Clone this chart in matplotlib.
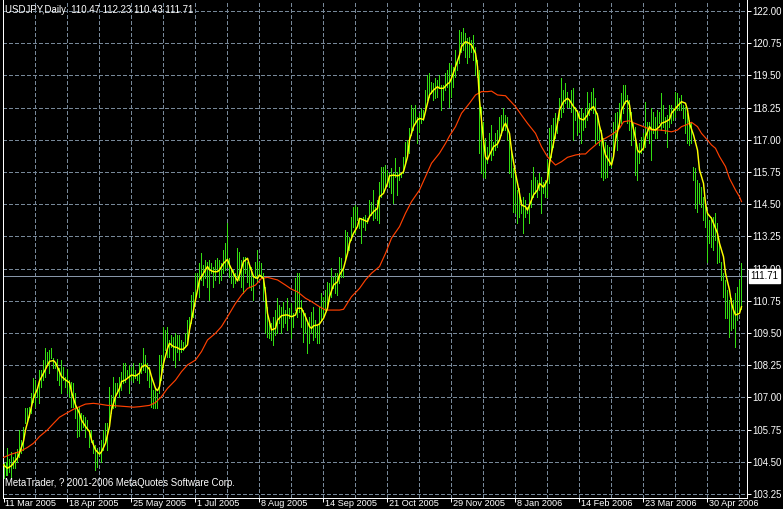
import numpy as np
import matplotlib
matplotlib.use("Agg")
import matplotlib.pyplot as plt
from matplotlib import transforms

plt.rcParams['font.family'] = ['Liberation Sans', 'DejaVu Sans']
plt.rcParams['lines.scale_dashes'] = False

title_text = "USDJPY,Daily  110.47 112.23 110.43 111.71"
footer_text = "MetaTrader, ? 2001-2006 MetaQuotes Software Corp."
last_price = 111.71

date_labels = ["11 Mar 2005", "18 Apr 2005", "25 May 2005", "1 Jul 2005",
               "8 Aug 2005", "14 Sep 2005", "21 Oct 2005", "29 Nov 2005",
               "8 Jan 2006", "14 Feb 2006", "23 Mar 2006", "30 Apr 2006"]
price_ticks = [103.25, 104.50, 105.75, 107.00, 108.25, 109.50, 110.75, 112.00,
               113.25, 114.50, 115.75, 117.00, 118.25, 119.50, 120.75, 122.00]

# daily bars, high / low (one per bar, oldest first)
bar_high = [
    104.45, 104.5, 105.02, 104.6, 104.89, 104.7, 104.89, 105.0, 105.74, 105.35,
    105.86, 106.58, 106.58, 106.64, 107.16, 107.74, 107.68, 107.42, 108.07, 108.07,
    108.45, 108.91, 108.78, 108.84, 108.91, 108.52, 108.32, 108.48, 108.13, 108.45,
    108.19, 107.81, 108.09, 107.68, 107.61, 107.55, 107.16, 106.64, 106.64, 106.38,
    106.32, 106.25, 106.12, 105.74, 105.74, 105.35, 105.15, 105.02, 104.96, 105.35,
    105.74, 105.99, 105.99, 107.42, 107.09, 107.81, 107.55, 107.55, 107.81, 108.0,
    108.35, 108.32, 108.07, 108.26, 108.19, 108.32, 108.07, 107.87, 108.32, 108.32,
    108.91, 108.65, 108.32,
    108.19, 107.74, 107.29, 107.42, 107.16, 108.65, 108.65, 109.75, 109.62, 109.75,
    109.23, 109.42, 109.36, 109.49, 109.42, 109.42, 109.23, 109.16, 109.49, 110.0,
    110.13, 110.97, 111.1, 111.82, 111.82, 112.2, 112.59, 112.14, 112.33, 112.27,
    112.33, 112.2, 112.08, 112.33, 112.4, 112.33, 112.2, 112.72, 112.98, 113.76,
    112.4, 112.01, 111.95, 111.82, 112.79, 112.66, 112.33, 112.46, 112.46, 112.27,
    112.14, 112.08, 111.69, 112.27, 112.72, 112.27, 112.2, 111.82, 111.3, 110.52,
    110.0, 109.88, 110.13, 110.39, 110.85, 110.59, 110.52, 110.72, 110.39, 110.85,
    110.46, 110.65, 110.26, 111.62, 111.82,
    111.82, 110.78, 110.39, 110.26, 109.88, 110.13, 110.33, 110.52, 110.0, 109.81,
    110.52, 111.04, 110.91, 111.17, 111.49, 111.43, 112.01, 111.69, 111.82, 111.82,
    112.46, 112.4, 112.08, 113.5, 113.43, 113.24, 114.02, 114.4, 114.47, 114.4,
    113.89, 113.95, 114.02, 114.08, 113.95, 114.66, 114.6, 115.05, 114.4, 114.66,
    115.38, 115.96, 115.96, 116.02, 115.83, 115.7, 115.89, 115.7, 116.28, 115.76,
    115.96, 115.7, 116.34, 116.93, 116.99, 117.45, 118.35, 118.22, 118.35, 117.9,
    118.03, 118.22, 118.16, 118.93, 119.52, 119.58, 119.26, 119.19, 119.39, 119.32,
    119.52, 119.13, 119.13, 119.58, 119.71,
    119.97, 119.9, 119.84, 120.49, 120.1, 121.26, 121.2, 121.33, 121.13, 120.94,
    121.0, 120.87, 121.07, 120.62, 120.1, 119.71, 118.29, 117.7, 117.06, 116.73,
    117.25, 117.58, 116.93, 117.25, 117.38, 117.9, 117.96, 118.22, 117.96, 117.9,
    117.25, 116.73, 115.89, 115.83, 115.05, 115.12, 114.66, 114.79, 114.66, 114.4,
    114.92, 115.44, 115.96, 115.57, 115.44, 115.7, 115.57, 115.38, 115.44, 116.22,
    117.45, 117.58, 117.83, 118.03, 117.83, 118.61, 119.39, 118.93, 119.19, 118.87,
    118.55, 118.93, 119.0, 118.29, 118.16, 118.03, 118.22, 118.03, 118.22, 118.87,
    118.42, 118.87, 119.0, 118.61, 118.03, 117.6,
    117.38, 117.06, 116.93, 116.8, 116.73, 116.35, 117.7, 118.03, 118.09, 118.42,
    118.8, 119.13, 119.13, 118.74, 118.54, 118.09, 117.64, 117.51, 116.73, 116.86,
    117.12, 117.25, 118.48, 117.7, 117.7, 118.22, 118.09, 117.9, 118.16, 118.09,
    118.8, 118.35, 117.9, 117.96, 118.35, 118.35, 118.22, 118.87, 118.8, 118.61,
    118.74, 118.35, 118.29, 118.03, 117.77, 117.64, 115.96, 115.89, 115.44, 115.31,
    115.18, 114.79, 114.66, 114.15, 113.89, 114.02, 114.02, 114.15, 113.76, 112.98,
    112.27, 111.82, 111.56, 111.17, 110.78, 110.85, 110.78, 111.04, 111.3, 111.56,
    112.23,
]
bar_low = [
    103.86, 104.0, 103.99, 104.1, 103.86, 104.25, 104.25, 104.5, 104.7, 104.83,
    104.96, 105.99, 106.06, 106.25, 106.38, 106.84, 106.64, 107.03, 106.77, 107.42,
    107.68, 107.81, 108.26, 107.94, 108.52, 108.13, 108.13, 107.68, 107.48, 107.16,
    107.68, 107.42, 107.16, 107.03, 106.64, 106.64, 106.19, 105.48, 105.5, 105.74,
    105.86, 105.48, 105.74, 105.09, 105.28, 104.83, 104.18, 104.31, 104.77, 104.51,
    104.96, 105.22, 104.96, 105.86, 106.38, 106.58, 106.64, 107.16, 107.03, 107.29,
    107.55, 107.61, 107.81, 107.16, 107.68, 107.61, 107.74, 107.68, 107.55, 107.94,
    108.07, 108.0, 107.68,
    107.42, 106.64, 106.58, 106.58, 106.58, 107.16, 107.68, 108.19, 108.84, 108.58,
    108.58, 108.97, 108.45, 108.19, 108.78, 108.45, 108.78, 108.84, 108.97, 109.1,
    109.49, 109.88, 110.13, 110.78, 111.3, 110.91, 111.56, 111.36, 111.62, 111.3,
    110.78, 111.82, 111.3, 111.56, 111.95, 111.43, 111.56, 111.82, 111.95, 112.08,
    111.69, 111.43, 111.3, 111.43, 111.69, 111.56, 111.3, 111.04, 111.82, 111.49,
    111.3, 111.17, 110.78, 111.62, 111.49, 111.75, 111.62, 110.78, 109.49, 109.36,
    109.29, 109.23, 109.03, 109.42, 109.49, 109.88, 109.49, 109.75, 109.88, 109.62,
    110.07, 109.3, 109.75, 110.39, 110.13,
    110.33, 109.75, 109.16, 109.49, 108.71, 109.1, 109.49, 109.23, 109.36, 109.1,
    109.1, 110.0, 110.2, 110.39, 110.52, 110.78, 110.91, 111.23, 111.04, 110.98,
    111.43, 111.69, 111.69, 112.33, 112.59, 112.72, 113.11, 113.63, 113.37, 113.89,
    113.56, 113.0, 113.63, 113.5, 113.76, 114.02, 114.08, 113.89, 113.95, 113.89,
    113.76, 114.79, 114.92, 115.18, 115.31, 115.18, 114.92, 114.53, 115.57, 114.86,
    115.44, 115.57, 115.7, 116.09, 116.48, 116.48, 117.19, 117.38, 117.7, 116.86,
    117.32, 117.64, 117.77, 118.16, 118.55, 118.68, 118.8, 118.55, 118.61, 118.68,
    119.0, 118.16, 118.55, 118.93, 119.06,
    118.29, 118.68, 119.06, 119.45, 119.71, 119.97, 120.42, 120.49, 120.23, 119.97,
    120.23, 120.42, 120.1, 119.52, 119.45, 116.48, 115.7, 115.57, 115.5, 116.09,
    116.48, 116.22, 116.41, 116.6, 116.73, 116.99, 117.19, 117.38, 117.38, 116.99,
    115.7, 115.57, 114.21, 114.15, 113.76, 114.02, 114.15, 113.37, 114.02, 114.15,
    113.76, 114.4, 114.79, 114.92, 114.79, 115.05, 114.15, 114.92, 114.79, 114.79,
    115.31, 116.34, 116.73, 117.06, 117.25, 117.77, 117.9, 118.09, 118.42, 118.29,
    118.29, 118.09, 117.0, 117.77, 117.19, 117.32, 116.86, 117.38, 117.51, 117.77,
    117.96, 118.16, 118.03, 116.86, 117.0, 116.8,
    115.57, 115.44, 115.5, 115.57, 116.02, 115.96, 116.35, 116.99, 116.6, 117.51,
    117.64, 118.03, 118.42, 117.64, 117.38, 116.8, 116.99, 115.63, 115.44, 116.09,
    116.47, 116.6, 116.73, 117.06, 116.86, 116.22, 117.25, 117.06, 117.06, 117.64,
    117.38, 117.51, 117.25, 116.73, 117.51, 117.64, 117.77, 117.9, 118.16, 118.16,
    118.16, 117.83, 117.25, 116.86, 116.8, 116.86, 115.44, 114.34, 114.21, 114.53,
    114.4, 113.89, 113.63, 112.27, 112.98, 112.85, 112.72, 113.11, 112.2, 112.27,
    111.56, 110.91, 110.07, 110.07, 109.36, 109.62, 109.68, 108.97, 110.0, 110.26,
    110.43,
]

# yellow (fast) moving average, read at these bar numbers
fast_pos = [0, 2, 4, 5, 7, 8, 10, 11, 13, 15, 17, 18, 20, 22, 23, 25, 26, 28, 29, 31,
            33, 34, 36, 38, 39, 41, 43, 44, 46, 48, 49, 51, 53, 54, 56, 58, 59, 61, 63, 64,
            66, 68, 69, 71, 73,
            74, 76, 77, 78, 80, 82, 83, 85, 87, 88, 90, 92, 93, 95, 97, 98, 100, 102, 103, 105,
            107, 108, 110, 112, 113, 115, 117, 118, 120, 122, 123, 125, 127, 128, 130, 131, 132, 134, 136, 137,
            139, 141, 142, 144, 146, 147,
            149, 151, 153, 154, 155, 157, 158, 160, 162, 163, 165, 167, 168, 170, 172, 173, 175, 177, 178, 180,
            182, 183, 185, 187, 188, 190, 192, 193, 195, 197, 198, 200, 202, 203, 205, 207, 208, 210, 212, 213,
            215, 217, 218, 220, 222, 223,
            224, 226, 228, 229, 231, 233, 234, 236, 237, 238, 239, 240, 241, 242, 243, 245, 247, 248, 250, 251,
            253, 254, 256, 258, 259, 261, 262, 263, 265, 267, 268, 270, 272, 273, 275, 277, 278, 280, 282, 283,
            285, 287, 288, 290, 292, 293, 295, 297, 298,
            299, 300, 301, 303, 304, 305, 306, 308, 309, 311, 312, 313, 314, 316, 317, 318, 320, 321, 323, 324,
            326, 328, 329, 331, 333, 334, 336, 338, 339, 341, 342, 343, 345, 347, 348, 350, 351, 352, 354, 355,
            357, 358, 360, 361, 363, 364, 365, 366, 368, 369]
fast_ma = [104.38, 104.25, 104.35, 104.45, 104.65, 104.85, 105.3, 105.74, 106.32, 106.98,
           107.34, 107.64, 107.94, 108.25, 108.4, 108.43, 108.35, 108.0, 107.81, 107.68,
           107.57, 107.22, 106.71, 106.38, 106.12, 105.87, 105.67, 105.35, 104.96, 104.8,
           104.89, 105.22, 105.87, 106.51, 107.03, 107.35, 107.61, 107.68, 107.81, 107.87,
           107.83, 107.94, 108.17, 108.26, 108.09,
           107.8, 107.35, 107.26, 107.42, 108.32, 108.9, 109.1, 108.97, 108.93, 108.87,
           108.87, 109.04, 109.62, 110.39, 111.17, 111.56, 111.82, 112.08, 111.95, 111.88,
           111.88, 111.95, 112.2, 112.36, 112.14, 111.82, 111.52, 111.75, 112.27, 112.4,
           112.14, 111.69, 111.62, 111.75, 111.62, 111.04, 110.26, 109.62, 109.68, 110.0,
           110.17, 110.2, 110.2, 110.13, 110.2, 110.46,
           110.46, 110.13, 109.75, 109.68, 109.78, 109.81, 109.85, 110.07, 110.46, 110.91,
           111.36, 111.49, 111.75, 112.01, 112.59, 112.98, 113.37, 113.63, 113.95, 113.89,
           113.82, 114.02, 114.21, 114.34, 114.79, 114.92, 115.31, 115.6, 115.63, 115.6,
           115.63, 115.76, 116.34, 116.99, 117.51, 117.77, 117.83, 117.79, 118.42, 118.74,
           118.93, 119.06, 119.0, 119.0, 119.17, 119.22,
           119.39, 119.84, 120.29, 120.62, 120.81, 120.74, 120.68, 120.36, 119.84, 118.54,
           117.77, 116.99, 116.34, 116.22, 116.41, 116.73, 116.84, 116.99, 117.51, 117.64,
           117.25, 116.6, 115.7, 114.92, 114.47, 114.4, 114.27, 114.47, 114.86, 115.05,
           115.31, 115.16, 115.44, 116.09, 116.86, 117.64, 118.16, 118.48, 118.61, 118.54,
           118.29, 118.09, 117.83, 117.77, 117.96, 118.16, 118.29, 117.96, 117.54,
           117.25, 116.73, 116.41, 116.15, 116.02, 116.34, 116.99, 117.64, 118.16, 118.48,
           118.52, 118.35, 117.77, 117.06, 116.6, 116.5, 116.67, 117.12, 117.51, 117.41,
           117.38, 117.51, 117.64, 117.7, 117.79, 118.03, 118.22, 118.39, 118.48, 118.42,
           118.16, 117.64, 117.19, 116.6, 115.83, 115.31, 114.53, 114.14, 113.95, 113.76,
           113.37, 112.98, 112.46, 111.82, 111.17, 110.65, 110.39, 110.2, 110.26, 110.52]

# red (slow) moving average, read at these bar numbers
slow_pos = [0, 4, 8, 12, 15, 18, 22, 25, 28, 32, 35, 38, 41, 45, 48, 52, 57, 62, 65, 68,
            73, 76, 79, 82, 86, 89, 92, 96, 99, 102, 106, 109, 112, 116, 119, 122, 126, 129, 132, 134,
            137, 141, 144, 147, 151, 154, 158, 161, 164, 168, 170, 174, 178, 181, 184, 188, 191, 194, 198, 201,
            204, 208, 211, 214, 218, 221, 223, 226, 229, 233, 236, 239, 242, 244, 247, 251, 253, 256, 259, 262,
            266, 269, 272, 276, 279, 282, 286, 289, 291, 293, 296, 298, 300, 303, 305, 308, 310, 313, 315, 318,
            321, 324, 328, 331, 334, 337, 339, 342, 344, 347, 349, 352, 354, 356, 358, 361, 363, 366, 368, 369]
slow_ma = [104.67, 104.8, 104.89, 105.06, 105.22, 105.48, 105.74, 105.99, 106.23, 106.41,
           106.54, 106.64, 106.74, 106.77, 106.74, 106.69, 106.67, 106.64, 106.62, 106.64,
           106.69, 106.8, 107.03, 107.35, 107.67, 108.0, 108.26, 108.45, 108.78, 109.23,
           109.49, 109.75, 110.13, 110.65, 110.97, 111.23, 111.36, 111.62, 111.66, 111.62,
           111.56, 111.36, 111.2, 111.1, 110.85, 110.72, 110.52, 110.39, 110.39, 110.39,
           110.42, 110.91, 111.23, 111.56, 111.82, 112.08, 112.59, 113.18, 113.63, 114.15,
           114.6, 115.05, 115.57, 116.09, 116.48, 116.86, 117.15, 117.51, 118.03, 118.42,
           118.74, 118.87, 118.87, 118.89, 118.74, 118.71, 118.54, 118.29, 117.96, 117.64,
           117.25, 116.73, 116.34, 116.02, 116.15, 116.32, 116.41, 116.45, 116.45, 116.6,
           116.8, 116.93, 117.02, 117.15, 117.25, 117.44, 117.7, 117.74, 117.66, 117.57,
           117.48, 117.38, 117.38, 117.35, 117.31, 117.38, 117.51, 117.6, 117.68, 117.51,
           117.25, 116.99, 116.8, 116.67, 116.35, 115.96, 115.5, 115.05, 114.79, 114.6]

W, H = 783, 509
fig = plt.figure(figsize=(W / 100, H / 100), dpi=100, facecolor='black')
ax = fig.add_axes([2.5 / W, 11.5 / H, 745 / W, 497.5 / H])
ax.set_facecolor('black')

grid_col = '#778899'
txt_size = 6.9

# bars
idx = np.arange(len(bar_high))
ax.vlines(idx, bar_low, bar_high, colors='#33dd11', linewidth=0.72,
          antialiased=False, zorder=3)

# moving averages
ax.plot(slow_pos, slow_ma, color='#ff4000', linewidth=0.85, zorder=4)
ax.plot(fast_pos, fast_ma, color='#ffff00', linewidth=1.05, zorder=5)

# last price line
ax.axhline(last_price, color='#8896a8', linewidth=0.72, antialiased=False, zorder=2)

ax.set_xlim(-0.5, 372.0)
ax.set_ylim(103.114, 122.427)

# grid
for gx in range(16, 372, 16):
    ax.axvline(gx, color=grid_col, linewidth=0.72, dashes=(2.2, 1.45),
               antialiased=False, zorder=1)
for gy in price_ticks:
    ax.axhline(gy, color=grid_col, linewidth=0.72, dashes=(2.2, 1.45),
               antialiased=False, zorder=1)

# axes styling
for side in ['left', 'right', 'bottom']:
    ax.spines[side].set_color('white')
    ax.spines[side].set_linewidth(0.72)
ax.spines['top'].set_visible(False)

ax.yaxis.tick_right()
ax.set_yticks(price_ticks)
ax.set_yticklabels(['%.2f' % p for p in price_ticks])
ax.tick_params(axis='y', colors='white', labelcolor='white', length=3, width=0.72,
               pad=0.3, labelsize=txt_size)

ax.set_xticks(range(0, 32 * len(date_labels), 32))
ax.set_xticklabels(date_labels)
ax.tick_params(axis='x', colors='white', labelcolor='white', length=3, width=0.72,
               pad=-1.6, labelsize=6.6)
shift = transforms.ScaledTranslation(0.012, 0, fig.dpi_scale_trans)
for lab in ax.get_xticklabels():
    lab.set_horizontalalignment('left')
    lab.set_transform(lab.get_transform() + shift)

# current price box (sits over the 112.00 label, as on the terminal)
ax.annotate('%.2f' % last_price, xy=(1.0, last_price),
            xycoords=('axes fraction', 'data'), xytext=(2.2, 0),
            textcoords='offset points', ha='left', va='center',
            fontsize=txt_size, color='black', annotation_clip=False,
            bbox=dict(boxstyle='square,pad=0.2', fc='white', ec='white'),
            zorder=10)

fig.text(5 / W, 1 - 10 / H, title_text, color='white', fontsize=txt_size,
         ha='left', va='center')
fig.text(5 / W, 1 - 483 / H, footer_text, color='white', fontsize=txt_size,
         ha='left', va='center')

fig.savefig('out.png', dpi=100, facecolor='black')
